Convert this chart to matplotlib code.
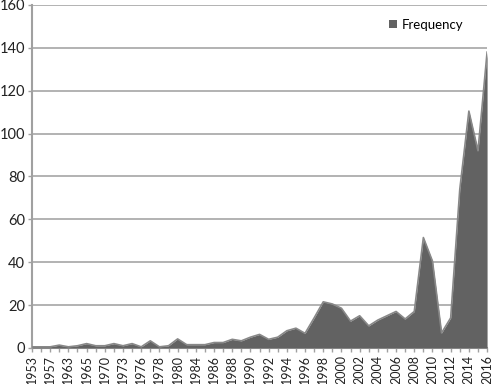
import numpy as np
import matplotlib.pyplot as plt

years = ['1953', '1955', '1957', '1960', '1963', '1964', '1965', '1968', '1970', '1971',
         '1973', '1975', '1976', '1977', '1978', '1979', '1980', '1982'] + \
        [str(y) for y in range(1984, 2017)]

frequency = [0.5, 0.5, 0.5, 1.3, 0.5, 1.0, 2.0, 1.0, 1.0, 2.0,
             1.0, 2.0, 0.5, 3.3, 0.5, 1.0, 4.2, 1.5,
             1.5, 1.5, 2.5, 2.5, 4.0, 3.3, 5.0, 6.3, 4.0, 5.0,
             8.0, 9.2, 6.8, 14.0, 21.5, 20.5, 18.5, 12.5, 15.0, 10.3,
             13.0, 15.0, 17.0, 13.5, 17.0, 51.5, 40.5, 7.0, 14.0, 74.0,
             110.5, 92.0, 138.0]

plt.rcParams['font.family'] = ['Lato', 'DejaVu Sans']

fig = plt.figure(figsize=(4.92, 3.84), dpi=100)
ax = fig.add_axes([0.065, 0.094, 0.925, 0.893])

x = np.arange(len(years))
ax.fill_between(x, frequency, 0, color='#626262', linewidth=0, label='Frequency', zorder=3)
ax.plot(x, frequency, color='#888888', linewidth=1.2, zorder=4)

ax.set_xlim(0, len(years) - 1)
ax.set_ylim(0, 160)
ax.set_yticks(range(0, 161, 20))
ax.yaxis.grid(True, color='#a6a6a6', linewidth=1.2, zorder=0)
ax.set_axisbelow(True)

ax.set_xticks(x)
ax.set_xticklabels([y if i % 2 == 0 else '' for i, y in enumerate(years)], rotation=90)

for s in ['top', 'right']:
    ax.spines[s].set_visible(False)
for s in ['left', 'bottom']:
    ax.spines[s].set_color('#a0a0a0')
    ax.spines[s].set_linewidth(1.5)
ax.tick_params(axis='both', colors='#a0a0a0', length=3, width=1, labelcolor='#222222')
ax.tick_params(axis='y', labelsize=10.5, pad=2)
ax.tick_params(axis='x', labelsize=9, pad=2)

leg = ax.legend(loc='upper right', bbox_to_anchor=(0.975, 0.995), frameon=False,
                fontsize=9.5, handlelength=0.6, handleheight=0.6, handletextpad=0.4)

fig.savefig('out.png', dpi=100)
